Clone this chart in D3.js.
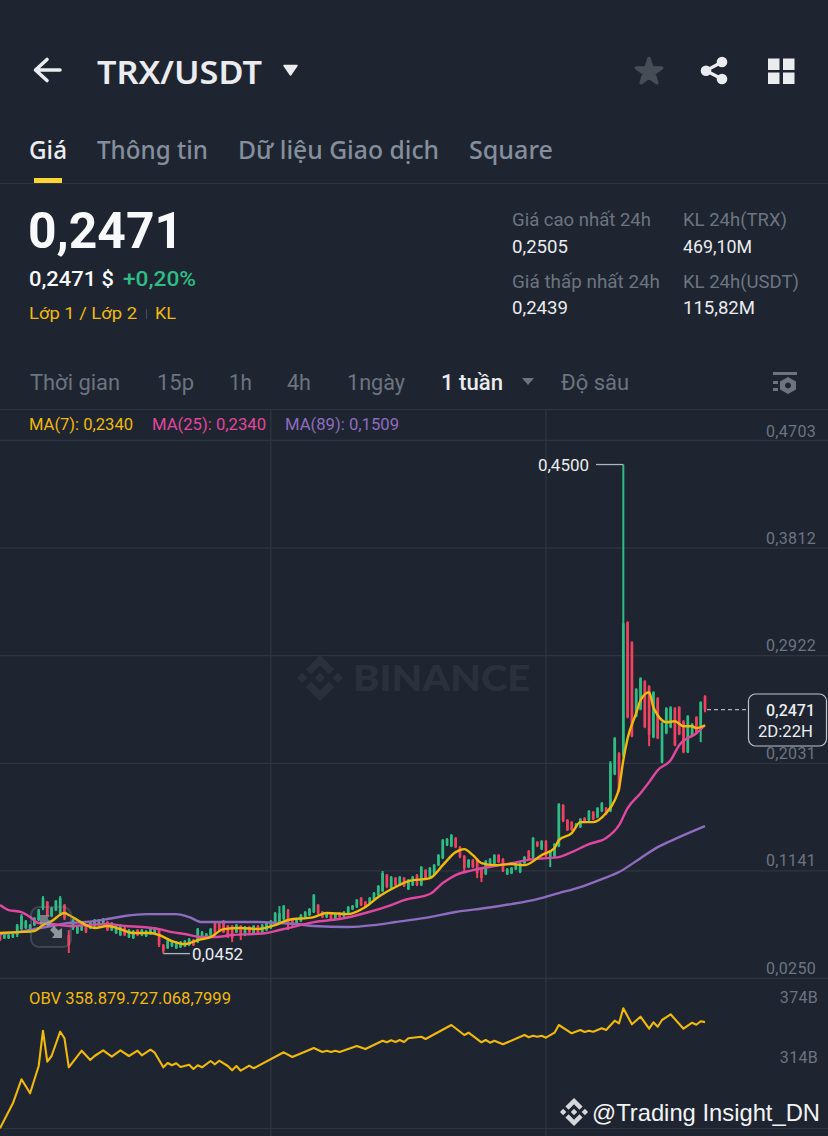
<!DOCTYPE html>
<html lang="vi">
<head>
<meta charset="UTF-8">
<title>TRX/USDT</title>
<script src="https://d3js.org/d3.v7.min.js"></script>
<style>
  html, body { margin: 0; padding: 0; background: #1e2530; }
  svg { display: block; }
  .domain { display: none; }
</style>
</head>
<body>
<script>
// weekly candles, oldest first
var opens = [
  .0622,.0581,.0581,.0589,.0606,.0655,.0664,.0630,.0688,.0730,
  .0829,.0879,.0763,.0812,.0779,.0854,.0606,.0664,.0622,.0647,
  .0688,.0664,.0680,.0688,.0697,.0713,.0647,.0622,.0606,.0664,
  .0589,.0581,.0647,.0606,.0597,.0614,.0614,.0655,.0523,.0498,
  .0515,.0498,.0506,.0515,.0523,.0564,.0548,.0581,.0581,.0597,
  .0705,.0713,.0713,.0680,.0680,.0630,.0680,.0606,.0672,.0622,
  .0680,.0630,.0647,.0664,.0688,.0713,.0738,.0812,.0730,.0688,
  .0721,.0754,.0771,.0796,.0854,.0796,.0754,.0779,.0738,.0788,
  .0763,.0779,.0821,.0837,.0912,.0879,.0870,.0903,.0936,.0969,
  .1102,.0994,.1077,.1027,.1077,.0986,.1019,.1102,.1019,.1143,
  .1085,.1102,.1184,.1242,.1350,.1342,.1408,.1333,.1259,.1168,
  .1226,.1234,.1151,.1110,.1184,.1193,.1267,.1234,.1110,.1118,
  .1151,.1127,.1201,.1300,.1251,.1375,.1317,.1383,.1251,.1259,
  .1342,.1681,.1557,.1540,.1499,.1499,.1573,.1557,.1623,.1581,
  .1631,.1656,.1631,.1937,.2111,.2094,.3194,.3029,.2417,.2475,
  .2706,.2665,.2243,.2566,.2036,.2276,.2326,.2483,.2491,.2375,
  .2119,.2251,.2408,.2318,.2582];
var highs = [
  .0630,.0614,.0614,.0622,.0697,.0779,.0730,.0697,.0754,.0821,
  .0928,.0887,.0837,.0895,.0928,.0862,.0647,.0738,.0680,.0697,
  .0697,.0721,.0738,.0738,.0746,.0721,.0713,.0697,.0697,.0672,
  .0655,.0647,.0655,.0655,.0647,.0664,.0672,.0664,.0531,.0564,
  .0564,.0556,.0556,.0564,.0581,.0573,.0664,.0639,.0622,.0664,
  .0713,.0721,.0730,.0688,.0688,.0697,.0688,.0680,.0680,.0688,
  .0688,.0697,.0713,.0730,.0796,.0845,.0854,.0821,.0738,.0746,
  .0779,.0804,.0829,.0945,.0862,.0804,.0796,.0788,.0788,.0796,
  .0804,.0845,.0854,.0903,.0920,.0887,.0920,.0961,.1019,.1135,
  .1110,.1094,.1085,.1094,.1085,.1069,.1094,.1110,.1176,.1151,
  .1168,.1193,.1275,.1400,.1408,.1441,.1416,.1342,.1267,.1234,
  .1234,.1242,.1160,.1226,.1242,.1275,.1275,.1242,.1160,.1168,
  .1201,.1209,.1259,.1309,.1416,.1383,.1391,.1391,.1309,.1366,
  .1697,.1689,.1565,.1548,.1532,.1573,.1581,.1639,.1631,.1664,
  .1706,.1664,.2045,.2243,.2119,.4500,.3202,.3037,.2648,.2739,
  .2714,.2673,.2623,.2574,.2367,.2491,.2499,.2491,.2499,.2384,
  .2425,.2359,.2417,.2540,.2590];
var lows = [
  .0556,.0573,.0573,.0581,.0589,.0639,.0655,.0622,.0680,.0721,
  .0812,.0763,.0754,.0804,.0763,.0730,.0457,.0647,.0614,.0639,
  .0622,.0655,.0672,.0680,.0688,.0639,.0639,.0614,.0597,.0597,
  .0581,.0573,.0597,.0597,.0589,.0606,.0606,.0506,.0452,.0490,
  .0506,.0490,.0498,.0506,.0515,.0515,.0539,.0573,.0573,.0589,
  .0597,.0639,.0622,.0581,.0548,.0622,.0564,.0597,.0622,.0614,
  .0606,.0622,.0639,.0655,.0680,.0705,.0730,.0647,.0680,.0680,
  .0713,.0746,.0763,.0788,.0779,.0746,.0746,.0730,.0730,.0746,
  .0754,.0771,.0812,.0829,.0845,.0837,.0862,.0895,.0928,.0961,
  .0994,.0986,.1011,.1019,.1003,.0978,.1011,.1011,.1011,.1069,
  .1077,.1094,.1176,.1234,.1342,.1333,.1325,.1242,.1118,.1160,
  .1160,.1077,.1044,.1102,.1176,.1184,.1201,.1127,.1102,.1110,
  .1143,.1118,.1193,.1226,.1242,.1333,.1309,.1242,.1168,.1251,
  .1333,.1540,.1466,.1466,.1491,.1491,.1532,.1548,.1557,.1573,
  .1623,.1598,.1623,.1929,.1788,.2078,.2400,.2243,.2408,.2466,
  .2318,.2169,.2235,.2227,.2028,.2268,.2318,.2169,.2260,.2111,
  .2111,.2243,.2276,.2202,.2450];
var closes = [
  .0564,.0606,.0606,.0614,.0688,.0763,.0721,.0688,.0746,.0812,
  .0912,.0771,.0829,.0887,.0912,.0746,.0523,.0730,.0672,.0688,
  .0630,.0713,.0730,.0730,.0738,.0647,.0705,.0688,.0688,.0606,
  .0647,.0639,.0606,.0647,.0639,.0655,.0664,.0523,.0473,.0556,
  .0556,.0548,.0548,.0556,.0573,.0523,.0655,.0630,.0614,.0655,
  .0606,.0647,.0630,.0589,.0581,.0688,.0597,.0672,.0630,.0680,
  .0614,.0688,.0705,.0721,.0788,.0788,.0845,.0688,.0688,.0738,
  .0771,.0796,.0821,.0936,.0788,.0754,.0788,.0738,.0779,.0754,
  .0796,.0837,.0845,.0895,.0854,.0845,.0912,.0953,.1011,.1118,
  .1003,.1085,.1019,.1085,.1011,.1060,.1085,.1019,.1168,.1077,
  .1160,.1184,.1267,.1391,.1400,.1433,.1333,.1251,.1160,.1226,
  .1168,.1118,.1077,.1218,.1234,.1267,.1209,.1135,.1151,.1160,
  .1193,.1201,.1251,.1234,.1408,.1342,.1383,.1259,.1300,.1358,
  .1689,.1548,.1474,.1474,.1524,.1565,.1540,.1631,.1565,.1656,
  .1697,.1606,.2028,.2235,.1805,.3186,.2408,.2251,.2640,.2731,
  .2326,.2260,.2615,.2235,.2359,.2483,.2491,.2177,.2268,.2119,
  .2417,.2351,.2284,.2532,.2471];

// moving averages, read at the candles where the line bends
var ma7Idx = [0,4,8,10,12,15,16,18,20,22,25,28,31,35,37,40,43,46,49,52,56,60,64,67,73,76,81,85,88,92,95,100,103,106,108,110,112,115,119,122,126,129,130,133,135,138,141,143,144,145,146,148,149,151,152,153,155,157,159,161,162,164];
var ma7 = [.0622,.0630,.0639,.0688,.0721,.0788,.0771,.0730,.0688,.0664,.0680,.0655,.0622,.0622,.0606,.0556,.0531,.0564,.0589,.0655,.0664,.0655,.0688,.0730,.0754,.0788,.0779,.0837,.0920,.1003,.1052,.1077,.1184,.1292,.1317,.1267,.1201,.1184,.1193,.1184,.1267,.1325,.1391,.1449,.1540,.1540,.1615,.1722,.1821,.2053,.2235,.2442,.2549,.2615,.2491,.2425,.2367,.2375,.2334,.2334,.2318,.2342];
var ma25Idx = [0,2,5,7,9,12,16,20,25,29,33,37,40,43,47,50,54,59,62,65,69,73,79,85,91,94,100,103,106,110,115,119,124,127,130,133,137,141,144,146,149,151,153,156,158,162,164];
var ma25 = [.0854,.0812,.0796,.0754,.0705,.0697,.0680,.0688,.0697,.0680,.0672,.0655,.0630,.0614,.0589,.0589,.0606,.0614,.0622,.0647,.0680,.0713,.0738,.0788,.0854,.0895,.0945,.1036,.1102,.1143,.1176,.1201,.1234,.1242,.1251,.1292,.1358,.1408,.1515,.1656,.1780,.1871,.1970,.2053,.2177,.2276,.2342];
var ma89Idx = [0,4,8,12,16,20,25,29,34,38,41,44,47,51,56,60,65,69,73,81,87,92,100,106,113,119,125,130,135,140,144,149,153,158,164];
var ma89 = [.0614,.0630,.0655,.0680,.0705,.0713,.0738,.0763,.0779,.0779,.0779,.0754,.0713,.0713,.0713,.0713,.0705,.0697,.0680,.0672,.0688,.0713,.0754,.0796,.0829,.0862,.0903,.0953,.1003,.1069,.1127,.1242,.1333,.1416,.1507];

// OBV in billions
var obvIdx = [0,3,5,7,9,10,11,12,14,15,16,19,21,22,24,26,28,30,32,33,35,36,38,39,40,41,42,44,45,46,47,49,50,51,53,54,55,56,58,59,66,68,73,75,76,77,78,79,83,85,89,90,91,92,93,94,95,96,
  98,99,105,108,109,112,113,114,115,117,122,123,124,125,126,127,129,130,133,135,136,137,138,140,141,143,144,145,147,149,151,152,153,154,156,159,161,162,163,164];
var obv = [252.7,277.7,301.7,287.7,315,350.3,319.3,325,349.3,342.7,313.7,330.3,321,325,330.7,324.3,330.7,325,330.3,325.7,331.3,328.3,313.7,318,315.7,317.7,314,316.3,312,315.7,313.7,320,316.7,320.3,315,310.7,315,310.3,315.3,312.7,328.7,324,333,329,330.3,329,330.3,329,335,332,340.3,338.7,340.7,339,341,339,342.7,343.3,
  344.3,342,356,346,348.3,338.7,341,338.3,340.3,336.7,346,343.7,345.3,344.3,345.3,343.3,348.3,356,347.7,351,349,350.3,349.3,352.7,351,360.3,357.7,372.7,356.7,364.3,352.3,358.7,354.3,361,366.7,352.3,358.3,356.3,359.7,358.9];

var priceTicks = [.4703,.3812,.2922,.2031,.1141,.0250];
var obvTicks = [374,314];
var timeGridIdx = [63,127];
var lastPrice = .2471, topPrice = .45, bottomPrice = .0452;

var W = 828, H = 1136;
var bg = "#1e2530", grid = "#2e3541", yellow = "#f0b90b", pink = "#e0479e", purple = "#8e6cc0",
    up = "#2ebd85", down = "#ee4261", muted = "#848e9c", dim = "#6d7480", light = "#eaecef";
var plex = "'Noto Sans', sans-serif", din = "Roboto, sans-serif";
var comma = function (v) { return d3.format(".4f")(v).replace(".", ","); };

var svg = d3.select("body").append("svg").attr("width", W).attr("height", H);
svg.append("rect").attr("width", W).attr("height", H).attr("fill", bg);

var x = d3.scaleLinear().domain([0, 164]).range([0, 705]);
var y = d3.scaleLinear().domain([.025, .4703]).range([978, 440]);
var yObv = d3.scaleLinear().domain([314, 374]).range([1067, 1007]);

function txt(px, py, s, size, fill, opt) {
  opt = opt || {};
  var t = svg.append("text").attr("x", px).attr("y", py).text(s)
    .attr("font-family", opt.font || din).attr("font-size", size).attr("fill", fill)
    .attr("font-weight", opt.weight || 400).attr("text-anchor", opt.anchor || "start");
  if (opt.w) t.attr("textLength", opt.w).attr("lengthAdjust", "spacingAndGlyphs");
  return t;
}

// ---- header
svg.append("path").attr("d", "M60,70H36M47,59.5L35.5,70L47,80.5").attr("fill", "none")
  .attr("stroke", light).attr("stroke-width", 3.6).attr("stroke-linecap", "round").attr("stroke-linejoin", "round");
txt(97, 84, "TRX/USDT", 33, light, { font: plex, weight: 600, w: 165 });
svg.append("path").attr("d", "M284,65.5H297L290.500,75Z").attr("fill", light).attr("stroke", light).attr("stroke-width", 1.5).attr("stroke-linejoin", "round");
svg.append("path").attr("d", d3.symbol().type(d3.symbolStar).size(200)()).attr("transform", "translate(649,72)")
  .attr("fill", "#474d57").attr("stroke", "#474d57").attr("stroke-width", 3.5).attr("stroke-linejoin", "round");
svg.append("path").attr("d", "M722,62L706,70.700L722,79").attr("fill", "none").attr("stroke", light).attr("stroke-width", 3.2);
[[722, 62], [706, 70.7], [722, 79]].forEach(function (p) {
  svg.append("circle").attr("cx", p[0]).attr("cy", p[1]).attr("r", 5.3).attr("fill", light);
});
[[768, 58.5], [783, 58.5], [768, 72.5], [783, 72.5]].forEach(function (p) {
  svg.append("rect").attr("x", p[0]).attr("y", p[1]).attr("width", 11.5).attr("height", 11.5).attr("fill", light);
});

// ---- tabs
txt(29, 159, "Giá", 25, light, { font: plex, weight: 500, w: 38 });
txt(97, 159, "Thông tin", 25, muted, { font: plex, weight: 500, w: 111 });
txt(238, 159, "Dữ liệu Giao dịch", 25, muted, { font: plex, weight: 500, w: 201 });
txt(469, 159, "Square", 25, muted, { font: plex, weight: 500, w: 84 });
svg.append("rect").attr("x", 34).attr("y", 178).attr("width", 28).attr("height", 5).attr("fill", "#fcd535");
svg.append("rect").attr("x", 0).attr("y", 183).attr("width", W).attr("height", 1).attr("fill", grid);

// ---- price block
txt(28, 248, "0,2471", 50, "#f8f9fa", { weight: 700, w: 155 });
txt(29, 286, "0,2471 $", 21, "#f8f9fa", { weight: 500, w: 85 });
txt(123, 286, "+0,20%", 21, up, { weight: 500, w: 73 });
txt(29, 319, "Lớp 1 / Lớp 2", 17, yellow, { w: 108 });
svg.append("rect").attr("x", 146).attr("y", 309).attr("width", 1).attr("height", 10).attr("fill", "#474d57");
txt(155, 319, "KL", 17, yellow, { w: 21 });

txt(512, 226, "Giá cao nhất 24h", 18, dim, { w: 139 });
txt(683, 226, "KL 24h(TRX)", 18, dim, { w: 104 });
txt(512, 253, "0,2505", 18, light, { w: 56 });
txt(683, 253, "469,10M", 18, light, { w: 69 });
txt(512, 288, "Giá thấp nhất 24h", 18, dim, { w: 148 });
txt(683, 288, "KL 24h(USDT)", 18, dim, { w: 116 });
txt(512, 314, "0,2439", 18, light, { w: 56 });
txt(683, 314, "115,82M", 18, light, { w: 72 });

// ---- interval row
txt(30, 390, "Thời gian", 22, dim, { w: 90 });
txt(157, 390, "15p", 22, dim, { w: 37 });
txt(229, 390, "1h", 22, dim, { w: 23 });
txt(287, 390, "4h", 22, dim, { w: 24 });
txt(347, 390, "1ngày", 22, dim, { w: 58 });
txt(441, 390, "1 tuần", 22, light, { weight: 500, w: 62 });
svg.append("path").attr("d", "M522,378H534L528,385Z").attr("fill", dim);
txt(561, 390, "Độ sâu", 22, dim, { w: 68 });
var gear = svg.append("g").attr("fill", dim);
gear.append("rect").attr("x", 773).attr("y", 372).attr("width", 24).attr("height", 3);
gear.append("rect").attr("x", 773).attr("y", 381).attr("width", 5).attr("height", 3);
gear.append("rect").attr("x", 773).attr("y", 388).attr("width", 5).attr("height", 3);
gear.append("path").attr("fill-rule", "evenodd")
  .attr("d", "M788,377L796,381.500V389.500L788,394L780,389.500V381.500ZM788,382.500a3,3 0 1,0 .01,0Z");
svg.append("rect").attr("x", 0).attr("y", 409).attr("width", W).attr("height", 1).attr("fill", grid);

// ---- gridlines and axes
svg.append("g").selectAll("line").data(timeGridIdx).enter().append("line")
  .attr("x1", function (d) { return x(d); }).attr("x2", function (d) { return x(d); })
  .attr("y1", 410).attr("y2", H).attr("stroke", grid).attr("stroke-width", 1.3);

var yAxis = svg.append("g").attr("transform", "translate(" + W + ",0)")
  .call(d3.axisRight(y).tickValues(priceTicks).tickSize(-W).tickFormat(comma));
yAxis.selectAll("line").attr("stroke", grid).attr("stroke-width", 1.3);
yAxis.selectAll("text").attr("x", -12).attr("y", -4.500).attr("dy", 0).attr("text-anchor", "end")
  .attr("font-family", din).attr("font-size", 16).attr("fill", dim).attr("letter-spacing", .3);
yAxis.selectAll(".tick").filter(function (d) { return d === .4703; }).select("text").attr("y", -4);

var obvAxis = svg.append("g").attr("transform", "translate(" + W + ",0)")
  .call(d3.axisRight(yObv).tickValues(obvTicks).tickSize(0).tickFormat(function (d) { return d + "B"; }));
obvAxis.selectAll("text").attr("x", -10).attr("y", -4.500).attr("dy", 0).attr("text-anchor", "end")
  .attr("font-family", din).attr("font-size", 16).attr("fill", dim).attr("letter-spacing", .3);
svg.append("rect").attr("x", 0).attr("y", 1128).attr("width", W).attr("height", 1).attr("fill", grid);

// ---- BINANCE watermark
var logoPath = "M16.624 13.9202l2.7175 2.7154-7.353 7.353-7.353-7.352 2.7175-2.7164 4.6355 4.6595 4.6356-4.6595zm4.6366-4.6366L24 12l-2.7154 2.7164L18.5682 12l2.6924-2.7164zm-9.272.001l2.7163 2.6914-2.7164 2.7174v-.001L9.2721 12l2.7164-2.7154zm-9.2722-.001L5.4088 12l-2.6914 2.6934L0 12l2.7164-2.7164zM11.9885.0115l7.353 7.329-2.7174 2.7154-4.6356-4.6356-4.6355 4.6595-2.7174-2.7154 7.353-7.353z";
svg.append("path").attr("d", logoPath).attr("fill", "#2b313c").attr("transform", "translate(297,655) scale(1.92)");
txt(353, 691, "BINANCE", 36, "#2b313c", { font: "Lato, sans-serif", weight: 900, w: 177 });

// ---- candles
var candles = d3.range(opens.length).map(function (i) {
  return { i: i, o: opens[i], h: highs[i], l: lows[i], c: closes[i] };
});
var cg = svg.append("g");
cg.selectAll("line").data(candles).enter().append("line")
  .attr("x1", function (d) { return x(d.i); }).attr("x2", function (d) { return x(d.i); })
  .attr("y1", function (d) { return y(d.h); }).attr("y2", function (d) { return y(d.l); })
  .attr("stroke", function (d) { return d.c >= d.o ? up : down; }).attr("stroke-width", 2);
cg.selectAll("rect").data(candles).enter().append("rect")
  .attr("x", function (d) { return x(d.i) - 1.35; }).attr("width", 2.7)
  .attr("y", function (d) { return y(Math.max(d.o, d.c)); })
  .attr("height", function (d) { return Math.max(1, Math.abs(y(d.o) - y(d.c))); })
  .attr("fill", function (d) { return d.c >= d.o ? up : down; });

// ---- moving averages
var maLine = d3.line().curve(d3.curveMonotoneX)
  .x(function (d) { return x(d[0]); }).y(function (d) { return y(d[1]); });
[[ma89Idx, ma89, purple], [ma25Idx, ma25, pink], [ma7Idx, ma7, yellow]].forEach(function (s) {
  svg.append("path").datum(d3.zip(s[0], s[1])).attr("d", maLine)
    .attr("fill", "none").attr("stroke", s[2]).attr("stroke-width", 2.4);
});

txt(29, 430, "MA(7): 0,2340", 16, yellow, { w: 104 });
txt(152, 430, "MA(25): 0,2340", 16, pink, { w: 114 });
txt(285, 430, "MA(89): 0,1509", 16, purple, { w: 114 });

// ---- high / low callouts
svg.append("path").attr("d", "M596," + y(topPrice) + "H" + x(145)).attr("stroke", "#aeb4bc").attr("stroke-width", 1.3).attr("fill", "none");
txt(589, y(topPrice) + 6, comma(topPrice), 16, light, { anchor: "end", w: 51 });
svg.append("path").attr("d", "M" + x(38) + "," + y(bottomPrice) + "H190").attr("stroke", "#aeb4bc").attr("stroke-width", 1.3).attr("fill", "none");
txt(192, y(bottomPrice) + 6, comma(bottomPrice), 16, light, { w: 51 });

// ---- last price tag
svg.append("line").attr("x1", x(164) + 2).attr("x2", 748).attr("y1", y(lastPrice)).attr("y2", y(lastPrice))
  .attr("stroke", "#aeb4bc").attr("stroke-width", 1.3).attr("stroke-dasharray", "4,3");
svg.append("rect").attr("x", 748.500).attr("y", 694).attr("width", 78).attr("height", 52).attr("rx", 7)
  .attr("fill", bg).attr("stroke", "#bfc4ca").attr("stroke-width", 1.2);
txt(815, 716, comma(lastPrice), 16, light, { anchor: "end", weight: 500, w: 49 });
txt(813, 737, "2D:22H", 16, light, { anchor: "end", w: 55 });

// ---- expand icon over the chart
var exp = svg.append("g");
exp.append("rect").attr("x", 31).attr("y", 907).attr("width", 40).attr("height", 40).attr("rx", 8)
  .attr("fill", "#848e9c").attr("fill-opacity", .05).attr("stroke", "#848e9c").attr("stroke-opacity", .3).attr("stroke-width", 2);
exp.append("path").attr("d", "M40,915H50L47.500,918.500L52,923L48,927L43.500,922.500L40,925Z").attr("fill", "#9aa1ab").attr("fill-opacity", .7);
exp.append("path").attr("d", "M62,938H52L54.500,934.500L50,930L54,926L58.500,930.500L62,928Z").attr("fill", "#aab0b8").attr("fill-opacity", .8);

// ---- OBV
svg.append("path").datum(d3.zip(obvIdx, obv))
  .attr("d", d3.line().x(function (d) { return x(d[0]); }).y(function (d) { return yObv(d[1]); }))
  .attr("fill", "none").attr("stroke", yellow).attr("stroke-width", 2.1).attr("stroke-linejoin", "round");
txt(29, 1004, "OBV 358.879.727.068,7999", 16, yellow, { w: 202 });

// ---- author tag
svg.append("path").attr("d", logoPath).attr("fill", "#d5d7da").attr("transform", "translate(560,1098) scale(1.17)");
txt(592, 1121, "@Trading Insight_DN", 24, "#f2f3f5", { font: "'Liberation Sans', sans-serif", w: 228 });
</script>
</body>
</html>
